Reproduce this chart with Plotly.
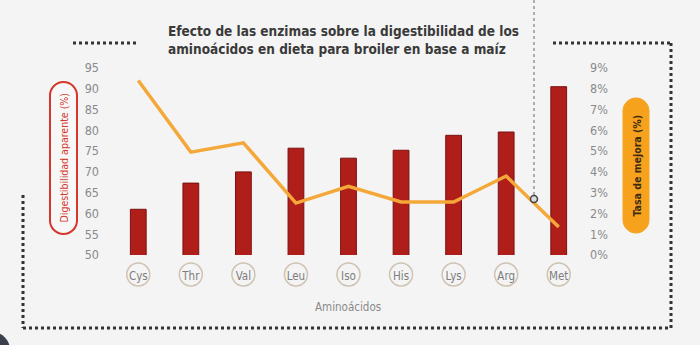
import plotly.graph_objects as go

# ---------------- data ----------------
categories = ["Cys", "Thr", "Val", "Leu", "Iso", "His", "Lys", "Arg", "Met"]
digestibility = [61.0, 67.3, 70.0, 75.7, 73.3, 75.2, 78.8, 79.6, 90.5]
improvement = [0.084, 0.0495, 0.054, 0.025, 0.033, 0.0255, 0.0255, 0.038, 0.0135]
left_ticks = [50, 55, 60, 65, 70, 75, 80, 85, 90, 95]
right_ticks = [0, 0.01, 0.02, 0.03, 0.04, 0.05, 0.06, 0.07, 0.08, 0.09]

title_text = ("Efecto de las enzimas sobre la digestibilidad de los<br>"
              "aminoácidos en dieta para broiler en base a maíz")
left_title = "Digestibilidad aparente (%)"
right_title = "Tasa de mejora (%)"
x_title = "Aminoácidos"

# ---------------- layout geometry ----------------
W, H = 700, 345
ML, MR, MT, MB = 112, 115, 68, 90
PW = W - ML - MR
PH = H - MT - MB
NARROW = "DejaVu Sans Condensed, Liberation Sans Narrow, Arial Narrow, sans-serif"


def px(x):
    return (x - ML) / PW


def py(y):
    return (H - MB - y) / PH


def pill_path(x0, x1, y0, y1):
    r = (x1 - x0) / 2
    cx = (x0 + x1) / 2
    k = 0.5523 * r
    pts = [
        ("M", [(x0, y0 + r)]),
        ("L", [(x0, y1 - r)]),
        ("C", [(x0, y1 - r + k), (cx - k, y1), (cx, y1)]),
        ("C", [(cx + k, y1), (x1, y1 - r + k), (x1, y1 - r)]),
        ("L", [(x1, y0 + r)]),
        ("C", [(x1, y0 + r - k), (cx + k, y0), (cx, y0)]),
        ("C", [(cx - k, y0), (x0, y0 + r - k), (x0, y0 + r)]),
    ]
    s = ""
    for cmd, ps in pts:
        s += cmd + " " + " ".join(f"{px(a):.5f},{py(b):.5f}" for a, b in ps) + " "
    return s + "Z"


fig = go.Figure()

fig.add_trace(go.Bar(
    x=categories, y=digestibility, width=0.3,
    marker=dict(color="#b01e19", line=dict(color="#7a1010", width=1)),
    yaxis="y", showlegend=False,
))
fig.add_trace(go.Scatter(
    x=categories, y=improvement, mode="lines",
    line=dict(color="#f4a83a", width=3.5),
    yaxis="y2", showlegend=False,
))

shapes = []
dot = dict(color="#333333", width=3, dash="dot")
for (x0, y0, x1, y1) in [(23, 195, 23, 328), (23, 328, 671, 328), (671, 43, 671, 328),
                         (553, 43, 671, 43), (73, 43, 138, 43)]:
    shapes.append(dict(type="line", xref="paper", yref="paper",
                       x0=px(x0), y0=py(y0), x1=px(x1), y1=py(y1), line=dot))
shapes.append(dict(type="line", xref="paper", yref="paper",
                   x0=px(534), y0=py(0), x1=px(534), y1=py(195),
                   line=dict(color="#666666", width=1, dash="dot")))
shapes.append(dict(type="circle", xref="paper", yref="paper",
                   x0=px(530.5), x1=px(537.5), y0=py(195.5), y1=py(202.5),
                   line=dict(color="#444444", width=1.5), fillcolor="#dddddd"))
shapes.append(dict(type="circle", xref="paper", yref="paper",
                   x0=px(-26), x1=px(10), y0=py(332), y1=py(368),
                   line=dict(width=0), fillcolor="#3b414c"))

# circles around category labels
n = len(categories)
for i in range(n):
    cx = ML + (i + 0.5) * PW / n
    shapes.append(dict(type="circle", xref="paper", yref="paper",
                       x0=px(cx - 11.5), x1=px(cx + 11.5), y0=py(286), y1=py(263),
                       line=dict(color="#cfc3b2", width=1.5), fillcolor="rgba(0,0,0,0)"))

# axis title pills
shapes.append(dict(type="path", xref="paper", yref="paper", path=pill_path(50, 77, 82, 234),
                   line=dict(color="#d6372c", width=2), fillcolor="#f7f7f7"))
shapes.append(dict(type="path", xref="paper", yref="paper", path=pill_path(623, 649, 98, 233),
                   line=dict(color="#f6a21d", width=1), fillcolor="#f6a21d"))

annotations = [
    dict(text=title_text, xref="paper", yref="paper", x=px(166), y=py(40),
         xanchor="left", yanchor="middle", align="left", showarrow=False,
         font=dict(family=NARROW, size=13.5, color="#3a3a3a", weight="bold")),
    dict(text=left_title, xref="paper", yref="paper", x=px(63.5), y=py(158),
         textangle=-90, showarrow=False, xanchor="center", yanchor="middle",
         font=dict(family=NARROW, size=10.5, color="#d6372c")),
    dict(text=right_title, xref="paper", yref="paper", x=px(636), y=py(165.5),
         textangle=-90, showarrow=False, xanchor="center", yanchor="middle",
         font=dict(family=NARROW, size=10.5, color="#3d2b12", weight="bold")),
    dict(text=x_title, xref="paper", yref="paper", x=px(348), y=py(307),
         showarrow=False, xanchor="center", yanchor="middle",
         font=dict(family=NARROW, size=11.5, color="#8a8a8a")),
]

fig.update_layout(
    width=W, height=H,
    margin=dict(l=ML, r=MR, t=MT, b=MB, pad=0),
    paper_bgcolor="#f4f4f4", plot_bgcolor="#f4f4f4",
    bargap=0.7,
    xaxis=dict(type="category", showgrid=False, zeroline=False, showline=False,
               ticks="", ticklabelstandoff=12,
               tickfont=dict(family=NARROW, size=11.5, color="#7d7d7d")),
    yaxis=dict(range=[50, 95], tickvals=left_ticks, showgrid=False, zeroline=False,
               showline=False, ticks="", ticklabelstandoff=12,
               tickfont=dict(family=NARROW, size=12.5, color="#8a8a8a")),
    yaxis2=dict(range=[0, 0.09], tickvals=right_ticks, tickformat=".0%",
                overlaying="y", side="right", showgrid=False, zeroline=False,
                showline=False, ticks="", ticklabelstandoff=4,
                tickfont=dict(family=NARROW, size=12.5, color="#8a8a8a")),
    shapes=shapes,
    annotations=annotations,
)

fig.write_html("out.html")
